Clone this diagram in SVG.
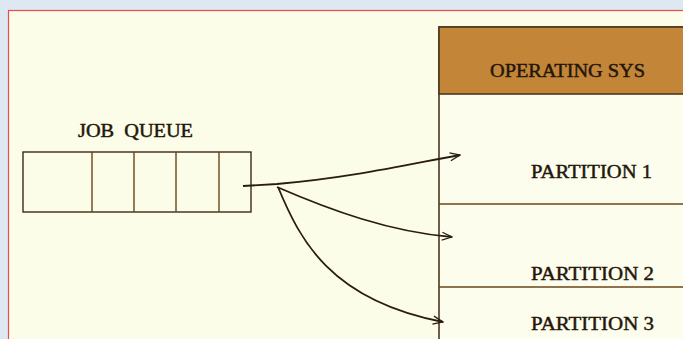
<svg xmlns="http://www.w3.org/2000/svg" width="683" height="339" viewBox="0 0 683 339">
  <style>
    .lbl { font-family: "Liberation Serif", "Times New Roman", serif; fill: #24160a; stroke: #24160a; stroke-width: 0.45; }
    .cell { fill: none; stroke: #3a2a18; stroke-width: 1.4; }
    .div { stroke: #6a4418; stroke-width: 1.4; }
    .part { stroke: #6a4418; stroke-width: 1.7; }
    .arrow { fill: none; stroke: #2a1c10; stroke-width: 1.8; marker-end: url(#head); }
  </style>
  <defs>
    <marker id="head" viewBox="0 0 12 10" refX="11" refY="5" markerWidth="12" markerHeight="10" markerUnits="userSpaceOnUse" orient="auto">
      <path d="M1,1 L11,5 L1,9" fill="none" stroke="#2a1c10" stroke-width="1.3"/>
    </marker>
  </defs>

  <!-- page background and frame -->
  <rect x="0" y="0" width="683" height="339" fill="#dde8f3"/>
  <rect x="8.5" y="10.5" width="700" height="340" fill="#fcfde9" stroke="#f04848" stroke-width="1.2"/>

  <!-- job queue -->
  <g id="job-queue">
    <text class="lbl" x="78" y="137" font-size="18" textLength="115" lengthAdjust="spacingAndGlyphs" xml:space="preserve">JOB  QUEUE</text>
    <rect class="cell" x="23" y="152" width="228" height="60"/>
    <line class="div" x1="92" y1="152" x2="92" y2="212"/>
    <line class="div" x1="134" y1="152" x2="134" y2="212"/>
    <line class="div" x1="176" y1="152" x2="176" y2="212"/>
    <line class="div" x1="219" y1="152" x2="219" y2="212"/>
  </g>

  <!-- memory layout -->
  <g id="memory">
    <rect x="439" y="27" width="260" height="330" fill="#fdfdee" stroke="#4a3820" stroke-width="1.6"/>
  </g>
  <g id="operating-sys">
    <rect x="439" y="27" width="260" height="67" fill="#c38639" stroke="#4a3820" stroke-width="1.6"/>
    <text class="lbl" x="490" y="77" font-size="19" textLength="155" lengthAdjust="spacingAndGlyphs">OPERATING SYS</text>
  </g>
  <g id="partition-1">
    <text class="lbl" x="531" y="178" font-size="19" textLength="121" lengthAdjust="spacingAndGlyphs">PARTITION 1</text>
  </g>
  <g id="partition-2">
    <line class="part" x1="439" y1="204" x2="699" y2="204"/>
    <text class="lbl" x="531" y="280" font-size="19" textLength="123" lengthAdjust="spacingAndGlyphs">PARTITION 2</text>
  </g>
  <g id="partition-3">
    <line class="part" x1="439" y1="287" x2="699" y2="287"/>
    <text class="lbl" x="531" y="330" font-size="19" textLength="123" lengthAdjust="spacingAndGlyphs">PARTITION 3</text>
  </g>

  <!-- connectors -->
  <g id="connectors">
    <path class="arrow" d="M243,186 L277,184 C350,178 410,164 460,155"/>
    <path class="arrow" d="M277,187 C330,210 390,232 452,237"/>
    <path class="arrow" d="M278,187 C300,240 330,300 443,322"/>
  </g>
</svg>
